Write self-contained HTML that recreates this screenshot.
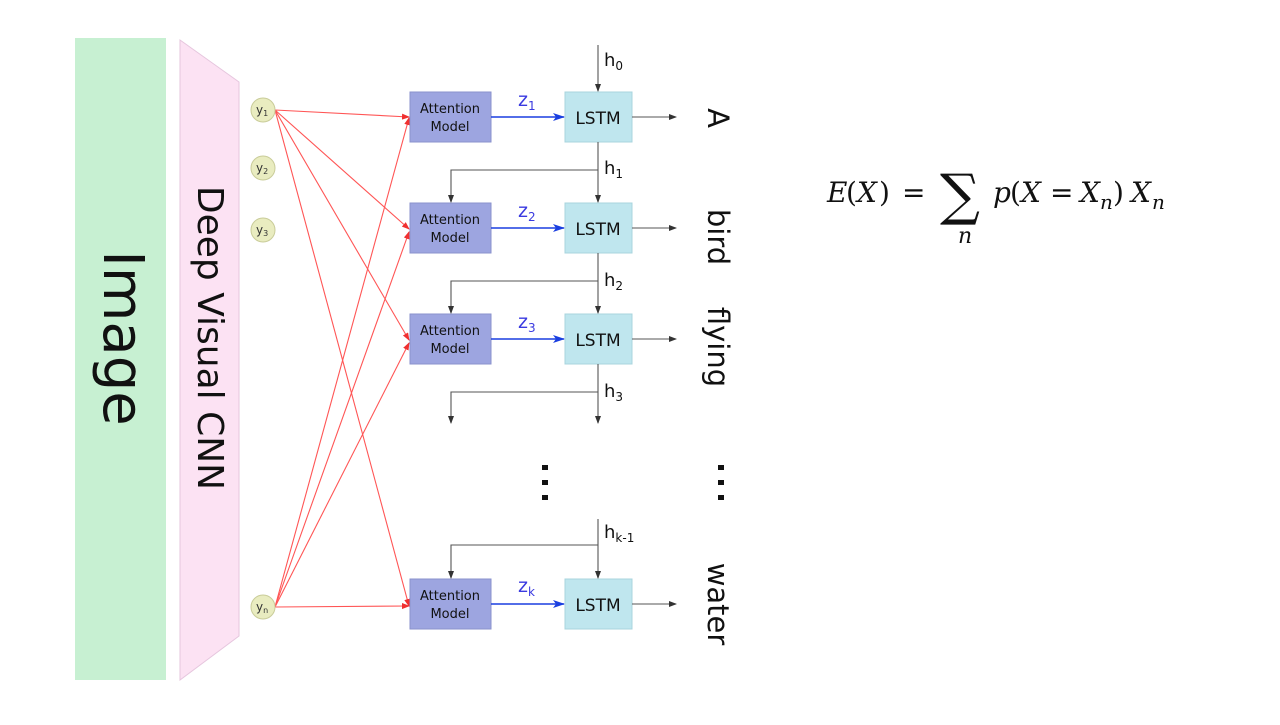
<!DOCTYPE html>
<html><head><meta charset="utf-8"><style>
body{margin:0;background:#fff;width:1280px;height:720px;overflow:hidden}
svg text{font-family:"DejaVu Sans","Liberation Sans",sans-serif}
svg text.m{font-family:"DejaVu Serif","Liberation Serif",serif}
</style></head><body>
<svg width="1280" height="720" xmlns="http://www.w3.org/2000/svg">
<defs>
<marker id="r" markerWidth="8" markerHeight="6" refX="7" refY="3" orient="auto" markerUnits="userSpaceOnUse"><path d="M0,0L8,3L0,6z" fill="#f03030"/></marker>
<marker id="k" markerWidth="8" markerHeight="6" refX="7" refY="3" orient="auto" markerUnits="userSpaceOnUse"><path d="M0,0L8,3L0,6z" fill="#333"/></marker>
<marker id="b" markerWidth="12" markerHeight="8" refX="11" refY="4" orient="auto" markerUnits="userSpaceOnUse"><path d="M0,0L12,4L0,8L3,4z" fill="#1a3fe0"/></marker>
</defs>
<rect x="75" y="38" width="91" height="642" fill="#c7f0d2"/>
<polygon points="180,40 239,82 239,636 180,680" fill="#fce2f3" stroke="#e6c6de" stroke-width="1"/>
<text transform="translate(104,338) rotate(90)" font-size="56" text-anchor="middle" fill="#111">Image</text>
<text transform="translate(198,338) rotate(90)" font-size="36" text-anchor="middle" fill="#111">Deep Visual CNN</text>
<g stroke="#f55" stroke-width="1.1" fill="none" marker-end="url(#r)">
<line x1="275" y1="110" x2="409" y2="117"/>
<line x1="275" y1="110" x2="409" y2="229"/>
<line x1="275" y1="110" x2="409" y2="340"/>
<line x1="275" y1="110" x2="409" y2="606"/>
<line x1="275" y1="607" x2="409" y2="606"/>
<line x1="275" y1="607" x2="409" y2="118"/>
<line x1="275" y1="607" x2="409" y2="232"/>
<line x1="275" y1="607" x2="409" y2="343"/>
</g>
<g fill="#e9ecc0" stroke="#c9cc99">
<circle cx="263" cy="110" r="12"/><circle cx="263" cy="168" r="12"/><circle cx="263" cy="230" r="12"/><circle cx="263" cy="607" r="12"/>
</g>
<g font-size="12" fill="#333"><text x="256" y="114">y<tspan font-size="8" dy="2">1</tspan></text><text x="256" y="172">y<tspan font-size="8" dy="2">2</tspan></text><text x="256" y="234">y<tspan font-size="8" dy="2">3</tspan></text><text x="256" y="611">y<tspan font-size="8" dy="2">n</tspan></text></g>
<g font-size="13" fill="#111" text-anchor="middle">
<rect x="410" y="92" width="81" height="50" fill="#9da5e0" stroke="#8a92cc"/><text x="450" y="113">Attention</text><text x="450" y="131">Model</text>
<rect x="410" y="203" width="81" height="50" fill="#9da5e0" stroke="#8a92cc"/><text x="450" y="224">Attention</text><text x="450" y="242">Model</text>
<rect x="410" y="314" width="81" height="50" fill="#9da5e0" stroke="#8a92cc"/><text x="450" y="335">Attention</text><text x="450" y="353">Model</text>
<rect x="410" y="579" width="81" height="50" fill="#9da5e0" stroke="#8a92cc"/><text x="450" y="600">Attention</text><text x="450" y="618">Model</text>
</g>
<g font-size="17" fill="#111" text-anchor="middle">
<rect x="565" y="92" width="67" height="50" fill="#bfe6ee" stroke="#a8d4de"/><text x="598" y="124">LSTM</text>
<rect x="565" y="203" width="67" height="50" fill="#bfe6ee" stroke="#a8d4de"/><text x="598" y="235">LSTM</text>
<rect x="565" y="314" width="67" height="50" fill="#bfe6ee" stroke="#a8d4de"/><text x="598" y="346">LSTM</text>
<rect x="565" y="579" width="67" height="50" fill="#bfe6ee" stroke="#a8d4de"/><text x="598" y="611">LSTM</text>
</g>
<g stroke="#1a3fe0" stroke-width="1.5" marker-end="url(#b)">
<line x1="491" y1="117" x2="564" y2="117"/><line x1="491" y1="228" x2="564" y2="228"/><line x1="491" y1="339" x2="564" y2="339"/><line x1="491" y1="604" x2="564" y2="604"/>
</g>
<g font-size="19" fill="#3a3ae0"><text x="518" y="106">z<tspan font-size="12" dy="4">1</tspan></text><text x="518" y="217">z<tspan font-size="12" dy="4">2</tspan></text><text x="518" y="328">z<tspan font-size="12" dy="4">3</tspan></text><text x="518" y="592">z<tspan font-size="12" dy="4">k</tspan></text></g>
<g stroke="#555" stroke-width="1.1" fill="none" marker-end="url(#k)">
<line x1="598" y1="45" x2="598" y2="91"/>
<line x1="598" y1="142" x2="598" y2="202"/><polyline points="598,170 451,170 451,202"/>
<line x1="598" y1="253" x2="598" y2="313"/><polyline points="598,281 451,281 451,313"/>
<line x1="598" y1="364" x2="598" y2="423"/><polyline points="598,392 451,392 451,423"/>
<line x1="598" y1="519" x2="598" y2="578"/><polyline points="598,545 451,545 451,578"/>
<line x1="632" y1="117" x2="676" y2="117"/><line x1="632" y1="228" x2="676" y2="228"/><line x1="632" y1="339" x2="676" y2="339"/><line x1="632" y1="604" x2="676" y2="604"/>
</g>
<g font-size="18" fill="#111"><text x="604" y="66">h<tspan font-size="12" dy="4">0</tspan></text><text x="604" y="174">h<tspan font-size="12" dy="4">1</tspan></text><text x="604" y="286">h<tspan font-size="12" dy="4">2</tspan></text><text x="604" y="397">h<tspan font-size="12" dy="4">3</tspan></text><text x="604" y="538">h<tspan font-size="12" dy="4">k-1</tspan></text></g>
<g fill="#111"><rect x="542" y="465" width="6" height="5"/><rect x="542" y="480" width="6" height="5"/><rect x="542" y="495" width="6" height="5"/><rect x="718" y="465" width="6" height="5"/><rect x="718" y="480" width="6" height="5"/><rect x="718" y="495" width="6" height="5"/></g>
<g font-size="29" fill="#111" text-anchor="middle">
<text transform="translate(708,118) rotate(90)">A</text>
<text transform="translate(708,237) rotate(90)">bird</text>
<text transform="translate(708,347) rotate(90)">flying</text>
<text transform="translate(708,604) rotate(90)">water</text>
</g>
<g fill="#111" font-size="28">
<text class="m" x="827" y="202" font-style="italic">E</text><text class="m" x="846" y="202">(</text><text class="m" x="857" y="202" font-style="italic">X</text><text class="m" x="879" y="202">)</text><text class="m" x="902" y="202">=</text>
<text class="m" x="940" y="214" font-size="56">∑</text><text class="m" x="958" y="243" font-size="22" font-style="italic">n</text>
<text class="m" x="993" y="202" font-style="italic">p</text><text class="m" x="1010" y="202">(</text><text class="m" x="1021" y="202" font-style="italic">X</text><text class="m" x="1050" y="202">=</text><text class="m" x="1080" y="202" font-style="italic">X</text><text class="m" x="1100" y="209" font-size="20" font-style="italic">n</text><text class="m" x="1113" y="202">)</text><text class="m" x="1131" y="202" font-style="italic">X</text><text class="m" x="1152" y="209" font-size="20" font-style="italic">n</text>
</g>
</svg>
</body></html>
